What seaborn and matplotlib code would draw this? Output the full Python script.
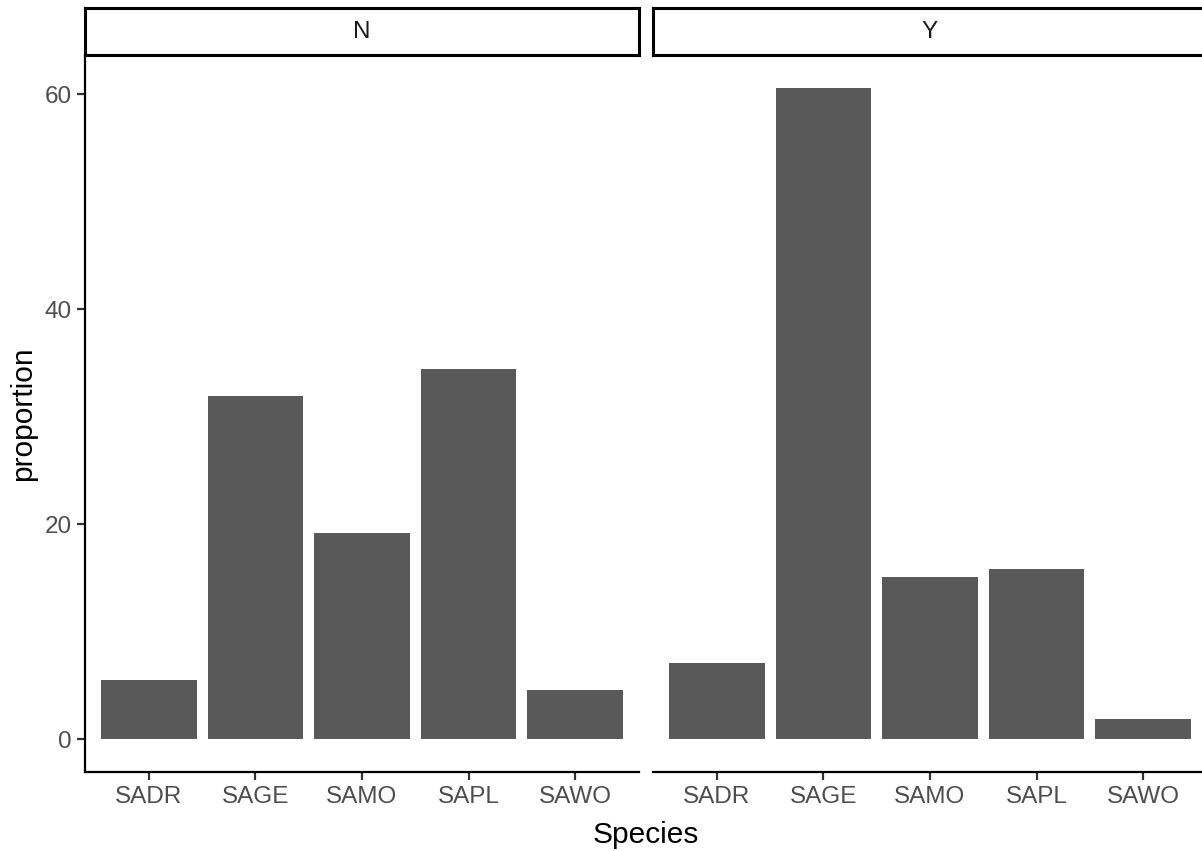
import pandas as pd
import matplotlib
matplotlib.use("Agg")
import matplotlib.pyplot as plt
import seaborn as sns

# values
species = ["SADR", "SAGE", "SAMO", "SAPL", "SAWO"]
panels = ["N", "Y"]
prop_n = [5.5, 31.9, 19.2, 34.4, 4.6]
prop_y = [7.1, 60.6, 15.1, 15.8, 1.9]
y_ticks = [0, 20, 40, 60]

df = pd.DataFrame({
    "Species": species * 2,
    "group": ["N"] * 5 + ["Y"] * 5,
    "proportion": prop_n + prop_y,
})

sns.set_style("white")
plt.rcParams["font.family"] = ["Liberation Sans", "DejaVu Sans"]

W, H = 1202, 851
fig = plt.figure(figsize=(W / 100, H / 100), dpi=100)

bar_col = "#595959"
tick_col = "#4D4D4D"
lw = 1.6

# panel pixel boxes (left, right), shared top/bottom
boxes = [(85, 639), (653, 1207)]
top, bottom = 55, 772
strip_top = 8

ymax = max(prop_n + prop_y)
pad = ymax * 0.05

for i, (g, (l, r)) in enumerate(zip(panels, boxes)):
    ax = fig.add_axes([l / W, 1 - bottom / H, (r - l) / W, (bottom - top) / H])
    sub = df[df["group"] == g]
    sns.barplot(data=sub, x="Species", y="proportion", order=species,
                color=bar_col, saturation=1, width=0.9, errorbar=None,
                linewidth=0, ax=ax)
    ax.set_xlim(-0.6, len(species) - 0.4)
    ax.set_ylim(-pad, ymax + pad)
    ax.set_yticks(y_ticks)
    ax.set_xlabel("")
    ax.set_ylabel("")
    for s in ["top", "right"]:
        ax.spines[s].set_visible(False)
    ax.spines["bottom"].set_linewidth(lw)
    ax.spines["bottom"].set_color("black")
    ax.spines["left"].set_linewidth(lw)
    ax.spines["left"].set_color("black")
    ax.tick_params(axis="both", length=5.5, width=lw, color="#333333",
                   labelsize=17.5, labelcolor=tick_col, pad=4.3,
                   left=True, bottom=True)
    if i > 0:
        ax.spines["left"].set_visible(False)
        ax.tick_params(axis="y", left=False, labelleft=False)

    # facet strip
    sax = fig.add_axes([l / W, 1 - top / H, (r - l) / W, (top - strip_top) / H])
    sax.set_facecolor("white")
    sax.set_xticks([])
    sax.set_yticks([])
    for s in sax.spines.values():
        s.set_visible(True)
        s.set_linewidth(2.2)
        s.set_color("black")
    sax.text(0.5, 0.5, g, ha="center", va="center", fontsize=17.5,
             color="#1A1A1A", transform=sax.transAxes)

fig.text((85 + 1207) / 2 / W, 1 - 835 / H, "Species", ha="center",
         va="center", fontsize=21.5, color="black")
fig.text(23 / W, 1 - (top + bottom) / 2 / H, "proportion", ha="center",
         va="center", rotation=90, fontsize=21.5, color="black")

fig.savefig("out.png", dpi=100, facecolor="white")
